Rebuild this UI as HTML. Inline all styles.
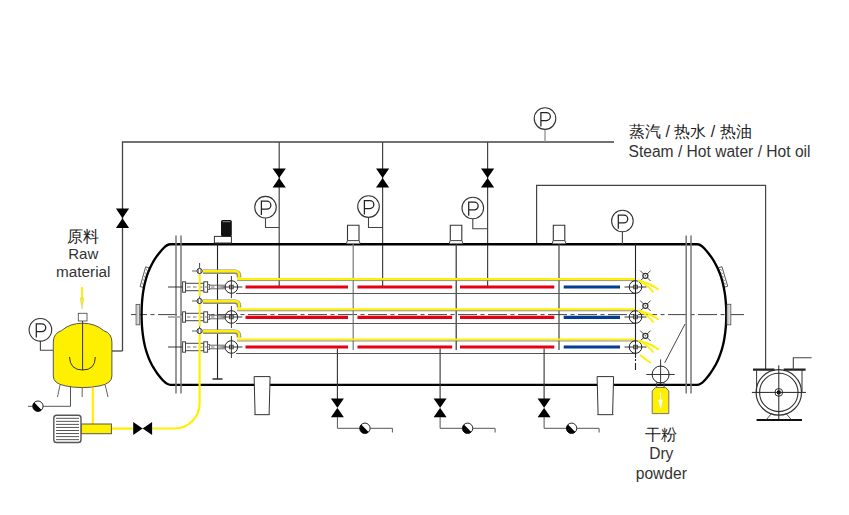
<!DOCTYPE html>
<html><head><meta charset="utf-8"><style>
html,body{margin:0;padding:0;background:#fff;}
body{width:849px;height:515px;position:relative;overflow:hidden;font-family:"Liberation Sans",sans-serif;}
svg{position:absolute;left:0;top:0;}
svg text{font-family:"Liberation Sans",sans-serif;}
.t{position:absolute;color:#2a2a2a;white-space:nowrap;}
.c{text-align:center;}
</style></head><body>
<svg width="849" height="515" viewBox="0 0 849 515">
<path d="M122.5,351 V142 H614" fill="none" stroke="#444" stroke-width="1.3"/>
<path d="M122.5,351 H112" fill="none" stroke="#444" stroke-width="1.3"/>
<path d="M115.9,208.5 H129.1 L115.9,228 H129.1 Z" fill="#000"/>
<line x1="545" y1="130" x2="545" y2="142" stroke="#888" stroke-width="1.2"/>
<circle cx="545" cy="118.6" r="10.8" fill="#fff" stroke="#333" stroke-width="1.1"/>
<path d="M540.9,126.39999999999999 V112.6 H546.4 A3.95,3.95 0 0 1 546.4,120.5 H540.9" fill="none" stroke="#222" stroke-width="1.25"/>
<line x1="279.2" y1="142" x2="279.2" y2="287" stroke="#444" stroke-width="1.2"/>
<path d="M272.59999999999997,168.6 H285.8 L272.59999999999997,187.4 H285.8 Z" fill="#000"/>
<line x1="382.6" y1="142" x2="382.6" y2="287" stroke="#444" stroke-width="1.2"/>
<path d="M376.0,168.6 H389.20000000000005 L376.0,187.4 H389.20000000000005 Z" fill="#000"/>
<line x1="487.6" y1="142" x2="487.6" y2="287" stroke="#444" stroke-width="1.2"/>
<path d="M481.0,168.6 H494.20000000000005 L481.0,187.4 H494.20000000000005 Z" fill="#000"/>
<path d="M265.5,218.2 V227.5 H279.2" fill="none" stroke="#444" stroke-width="1.1"/>
<circle cx="265.5" cy="207.2" r="10.8" fill="#fff" stroke="#333" stroke-width="1.1"/>
<path d="M261.4,215.0 V201.2 H266.9 A3.95,3.95 0 0 1 266.9,209.1 H261.4" fill="none" stroke="#222" stroke-width="1.25"/>
<path d="M368.5,217.6 V227.5 H382.6" fill="none" stroke="#444" stroke-width="1.1"/>
<circle cx="368.5" cy="206.6" r="10.8" fill="#fff" stroke="#333" stroke-width="1.1"/>
<path d="M364.4,214.4 V200.6 H369.9 A3.95,3.95 0 0 1 369.9,208.5 H364.4" fill="none" stroke="#222" stroke-width="1.25"/>
<path d="M472.8,219 V228.8 H487.6" fill="none" stroke="#444" stroke-width="1.1"/>
<circle cx="472.8" cy="208" r="10.8" fill="#fff" stroke="#333" stroke-width="1.1"/>
<path d="M468.7,215.8 V202 H474.2 A3.95,3.95 0 0 1 474.2,209.9 H468.7" fill="none" stroke="#222" stroke-width="1.25"/>
<path d="M536.6,244 V185.3 H765.6 V370" fill="none" stroke="#444" stroke-width="1.2"/>
<line x1="131" y1="314.6" x2="744" y2="314.6" stroke="#444" stroke-width="1" stroke-dasharray="19,3.5,4,3.5" stroke-dashoffset="3"/>
<g transform="translate(144.7,277.2) rotate(15.7)"><rect x="-1.9" y="-10.2" width="3.8" height="20.4" fill="#fff" stroke="#555" stroke-width="0.9"/><path d="M-1,-8.5 L1,-6.5 M-1,-4.9 L1,-2.9 M-1,-1.2999999999999998 L1,0.7000000000000002 M-1,2.3000000000000007 L1,4.300000000000001 M-1,5.9 L1,7.9 " stroke="#888" stroke-width="0.8"/></g>
<g transform="translate(723,277) rotate(-16.5)"><rect x="-1.9" y="-10.2" width="3.8" height="20.4" fill="#fff" stroke="#555" stroke-width="0.9"/><path d="M-1,-8.5 L1,-6.5 M-1,-4.9 L1,-2.9 M-1,-1.2999999999999998 L1,0.7000000000000002 M-1,2.3000000000000007 L1,4.300000000000001 M-1,5.9 L1,7.9 " stroke="#888" stroke-width="0.8"/></g>
<path d="M170.53,244.2 H697.11 Q700.44,244.2 704.14,248.2 L704.14,248.20 L704.59,248.70 L705.04,249.20 L705.49,249.70 L705.93,250.20 L706.36,250.70 L706.78,251.20 L707.20,251.70 L707.60,252.20 L708.01,252.70 L708.40,253.20 L708.79,253.70 L709.18,254.20 L709.55,254.70 L709.92,255.20 L710.29,255.70 L710.65,256.20 L711.00,256.70 L711.35,257.20 L711.69,257.70 L712.02,258.20 L712.35,258.70 L712.67,259.20 L712.99,259.70 L713.30,260.20 L713.61,260.70 L713.91,261.20 L714.21,261.70 L714.50,262.20 L714.78,262.70 L715.06,263.20 L715.34,263.70 L715.61,264.20 L715.88,264.70 L716.14,265.20 L716.39,265.70 L716.64,266.20 L716.89,266.70 L717.13,267.20 L717.37,267.70 L717.60,268.20 L717.83,268.70 L718.06,269.20 L718.28,269.70 L718.49,270.20 L718.70,270.70 L718.91,271.20 L719.12,271.70 L719.32,272.20 L719.51,272.70 L719.70,273.20 L719.89,273.70 L720.08,274.20 L720.26,274.70 L720.44,275.20 L720.61,275.70 L720.78,276.20 L720.95,276.70 L721.11,277.20 L721.27,277.70 L721.42,278.20 L721.58,278.70 L721.73,279.20 L721.87,279.70 L722.02,280.20 L722.16,280.70 L722.30,281.20 L722.43,281.70 L722.56,282.20 L722.69,282.70 L722.82,283.20 L722.94,283.70 L723.06,284.20 L723.17,284.70 L723.29,285.20 L723.40,285.70 L723.51,286.20 L723.62,286.70 L723.72,287.20 L723.82,287.70 L723.92,288.20 L724.02,288.70 L724.11,289.20 L724.20,289.70 L724.29,290.20 L724.38,290.70 L724.46,291.20 L724.55,291.70 L724.63,292.20 L724.70,292.70 L724.78,293.20 L724.85,293.70 L724.92,294.20 L724.99,294.70 L725.06,295.20 L725.13,295.70 L725.19,296.20 L725.25,296.70 L725.31,297.20 L725.37,297.70 L725.42,298.20 L725.48,298.70 L725.53,299.20 L725.58,299.70 L725.62,300.20 L725.67,300.70 L725.71,301.20 L725.76,301.70 L725.80,302.20 L725.84,302.70 L725.87,303.20 L725.91,303.70 L725.94,304.20 L725.98,304.70 L726.01,305.20 L726.03,305.70 L726.06,306.20 L726.09,306.70 L726.11,307.20 L726.13,307.70 L726.15,308.20 L726.17,308.70 L726.19,309.20 L726.21,309.70 L726.22,310.20 L726.23,310.70 L726.24,311.20 L726.25,311.70 L726.26,312.20 L726.27,312.70 L726.27,313.20 L726.28,313.70 L726.28,314.20 L726.28,314.70 L726.28,315.20 L726.27,315.70 L726.27,316.20 L726.26,316.70 L726.25,317.20 L726.25,317.70 L726.24,318.20 L726.22,318.70 L726.21,319.20 L726.19,319.70 L726.18,320.20 L726.16,320.70 L726.14,321.20 L726.12,321.70 L726.09,322.20 L726.07,322.70 L726.04,323.20 L726.01,323.70 L725.98,324.20 L725.95,324.70 L725.92,325.20 L725.88,325.70 L725.84,326.20 L725.81,326.70 L725.77,327.20 L725.72,327.70 L725.68,328.20 L725.63,328.70 L725.59,329.20 L725.54,329.70 L725.49,330.20 L725.43,330.70 L725.38,331.20 L725.32,331.70 L725.26,332.20 L725.20,332.70 L725.14,333.20 L725.07,333.70 L725.01,334.20 L724.94,334.70 L724.87,335.20 L724.79,335.70 L724.72,336.20 L724.64,336.70 L724.56,337.20 L724.48,337.70 L724.40,338.20 L724.31,338.70 L724.22,339.20 L724.13,339.70 L724.04,340.20 L723.94,340.70 L723.84,341.20 L723.74,341.70 L723.64,342.20 L723.53,342.70 L723.42,343.20 L723.31,343.70 L723.20,344.20 L723.08,344.70 L722.96,345.20 L722.84,345.70 L722.71,346.20 L722.59,346.70 L722.46,347.20 L722.32,347.70 L722.19,348.20 L722.05,348.70 L721.90,349.20 L721.76,349.70 L721.61,350.20 L721.46,350.70 L721.30,351.20 L721.14,351.70 L720.98,352.20 L720.81,352.70 L720.64,353.20 L720.47,353.70 L720.29,354.20 L720.11,354.70 L719.93,355.20 L719.74,355.70 L719.55,356.20 L719.36,356.70 L719.16,357.20 L718.95,357.70 L718.75,358.20 L718.54,358.70 L718.32,359.20 L718.10,359.70 L717.88,360.20 L717.65,360.70 L717.42,361.20 L717.18,361.70 L716.94,362.20 L716.69,362.70 L716.44,363.20 L716.19,363.70 L715.93,364.20 L715.66,364.70 L715.39,365.20 L715.12,365.70 L714.84,366.20 L714.55,366.70 L714.27,367.20 L713.97,367.70 L713.67,368.20 L713.36,368.70 L713.05,369.20 L712.74,369.70 L712.41,370.20 L712.09,370.70 L711.75,371.20 L711.41,371.70 L711.07,372.20 L710.72,372.70 L710.36,373.20 L710.00,373.70 L709.63,374.20 L709.25,374.70 L708.87,375.20 L708.48,375.70 L708.09,376.20 L707.69,376.70 L707.28,377.20 L706.86,377.70 L706.44,378.20 L706.01,378.70 L705.58,379.20 L705.13,379.70 L704.68,380.20 L704.23,380.70 Q700.44,384.8 697.11,384.8 H170.53 Q167.15,384.8 163.40,380.8 L163.31,380.70 L162.85,380.20 L162.39,379.70 L161.94,379.20 L161.50,378.70 L161.07,378.20 L160.64,377.70 L160.22,377.20 L159.81,376.70 L159.41,376.20 L159.01,375.70 L158.62,375.20 L158.23,374.70 L157.85,374.20 L157.48,373.70 L157.12,373.20 L156.76,372.70 L156.41,372.20 L156.06,371.70 L155.72,371.20 L155.39,370.70 L155.06,370.20 L154.74,369.70 L154.42,369.20 L154.11,368.70 L153.81,368.20 L153.51,367.70 L153.22,367.20 L152.93,366.70 L152.65,366.20 L152.37,365.70 L152.10,365.20 L151.83,364.70 L151.57,364.20 L151.31,363.70 L151.06,363.20 L150.81,362.70 L150.57,362.20 L150.33,361.70 L150.10,361.20 L149.87,360.70 L149.65,360.20 L149.43,359.70 L149.21,359.20 L149.00,358.70 L148.79,358.20 L148.59,357.70 L148.39,357.20 L148.20,356.70 L148.01,356.20 L147.82,355.70 L147.64,355.20 L147.46,354.70 L147.28,354.20 L147.11,353.70 L146.95,353.20 L146.78,352.70 L146.62,352.20 L146.46,351.70 L146.31,351.20 L146.16,350.70 L146.01,350.20 L145.87,349.70 L145.73,349.20 L145.59,348.70 L145.46,348.20 L145.32,347.70 L145.20,347.20 L145.07,346.70 L144.95,346.20 L144.83,345.70 L144.71,345.20 L144.60,344.70 L144.49,344.20 L144.38,343.70 L144.27,343.20 L144.17,342.70 L144.07,342.20 L143.97,341.70 L143.88,341.20 L143.78,340.70 L143.69,340.20 L143.60,339.70 L143.52,339.20 L143.43,338.70 L143.35,338.20 L143.27,337.70 L143.20,337.20 L143.12,336.70 L143.05,336.20 L142.98,335.70 L142.91,335.20 L142.84,334.70 L142.78,334.20 L142.72,333.70 L142.66,333.20 L142.60,332.70 L142.54,332.20 L142.49,331.70 L142.43,331.20 L142.38,330.70 L142.33,330.20 L142.28,329.70 L142.24,329.20 L142.19,328.70 L142.15,328.20 L142.11,327.70 L142.07,327.20 L142.03,326.70 L142.00,326.20 L141.97,325.70 L141.93,325.20 L141.90,324.70 L141.87,324.20 L141.84,323.70 L141.82,323.20 L141.79,322.70 L141.77,322.20 L141.75,321.70 L141.73,321.20 L141.71,320.70 L141.69,320.20 L141.68,319.70 L141.66,319.20 L141.65,318.70 L141.64,318.20 L141.63,317.70 L141.62,317.20 L141.61,316.70 L141.61,316.20 L141.60,315.70 L141.60,315.20 L141.60,314.70 L141.60,314.20 L141.60,313.70 L141.60,313.20 L141.61,312.70 L141.62,312.20 L141.62,311.70 L141.63,311.20 L141.64,310.70 L141.65,310.20 L141.67,309.70 L141.68,309.20 L141.70,308.70 L141.71,308.20 L141.73,307.70 L141.75,307.20 L141.78,306.70 L141.80,306.20 L141.82,305.70 L141.85,305.20 L141.88,304.70 L141.91,304.20 L141.94,303.70 L141.97,303.20 L142.01,302.70 L142.04,302.20 L142.08,301.70 L142.12,301.20 L142.16,300.70 L142.20,300.20 L142.25,299.70 L142.29,299.20 L142.34,298.70 L142.39,298.20 L142.44,297.70 L142.50,297.20 L142.55,296.70 L142.61,296.20 L142.67,295.70 L142.73,295.20 L142.79,294.70 L142.86,294.20 L142.92,293.70 L142.99,293.20 L143.06,292.70 L143.14,292.20 L143.21,291.70 L143.29,291.20 L143.37,290.70 L143.45,290.20 L143.53,289.70 L143.62,289.20 L143.71,288.70 L143.80,288.20 L143.89,287.70 L143.99,287.20 L144.09,286.70 L144.19,286.20 L144.29,285.70 L144.40,285.20 L144.51,284.70 L144.62,284.20 L144.74,283.70 L144.85,283.20 L144.97,282.70 L145.10,282.20 L145.22,281.70 L145.35,281.20 L145.48,280.70 L145.62,280.20 L145.76,279.70 L145.90,279.20 L146.04,278.70 L146.19,278.20 L146.34,277.70 L146.49,277.20 L146.65,276.70 L146.81,276.20 L146.98,275.70 L147.15,275.20 L147.32,274.70 L147.49,274.20 L147.67,273.70 L147.86,273.20 L148.05,272.70 L148.24,272.20 L148.43,271.70 L148.63,271.20 L148.83,270.70 L149.04,270.20 L149.25,269.70 L149.47,269.20 L149.69,268.70 L149.92,268.20 L150.14,267.70 L150.38,267.20 L150.62,266.70 L150.86,266.20 L151.11,265.70 L151.36,265.20 L151.62,264.70 L151.88,264.20 L152.15,263.70 L152.42,263.20 L152.70,262.70 L152.99,262.20 L153.28,261.70 L153.57,261.20 L153.87,260.70 L154.18,260.20 L154.49,259.70 L154.80,259.20 L155.13,258.70 L155.46,258.20 L155.79,257.70 L156.13,257.20 L156.48,256.70 L156.83,256.20 L157.19,255.70 L157.56,255.20 L157.93,254.70 L158.31,254.20 L158.69,253.70 L159.09,253.20 L159.49,252.70 L159.89,252.20 L160.31,251.70 L160.73,251.20 L161.15,250.70 L161.59,250.20 L162.03,249.70 L162.48,249.20 L162.94,248.70 L163.40,248.20 Q167.15,244.2 170.53,244.2 Z" fill="none" stroke="#000" stroke-width="2.35" stroke-linejoin="round"/>
<line x1="176" y1="235.5" x2="176" y2="393.5" stroke="#777" stroke-width="1.5"/>
<line x1="181" y1="235.5" x2="181" y2="393.5" stroke="#777" stroke-width="1.5"/>
<line x1="686.2" y1="235.5" x2="686.2" y2="393.5" stroke="#777" stroke-width="1.5"/>
<line x1="691" y1="235.5" x2="691" y2="393.5" stroke="#777" stroke-width="1.5"/>
<rect x="136.1" y="304.4" width="3.6" height="20.4" fill="#fff" stroke="#555" stroke-width="0.9"/><path d="M137.9,305 V324.2" stroke="#888" stroke-width="0.7"/>
<rect x="727" y="304.3" width="3.8" height="20.5" fill="#fff" stroke="#555" stroke-width="0.9"/><path d="M728.9,305 V324.2" stroke="#888" stroke-width="0.7"/>
<rect x="214.4" y="236.4" width="17" height="6.6" fill="#fff" stroke="#333" stroke-width="1"/>
<rect x="221" y="220" width="10.8" height="16.4" rx="1.6" fill="#111"/>
<path d="M222.5,221.6 H230.3" stroke="#777" stroke-width="1.2"/>
<path d="M347.5,240.8 V225.2 H359.0 V240.8" fill="#fff" stroke="#333" stroke-width="1.1"/>
<path d="M346.4,243.5 L347.4,240.6 H359.09999999999997 L360.09999999999997,243.5" fill="#fff" stroke="#444" stroke-width="1"/>
<path d="M450.3,240.8 V225.2 H461.8 V240.8" fill="#fff" stroke="#333" stroke-width="1.1"/>
<path d="M449.2,243.5 L450.2,240.6 H461.9 L462.9,243.5" fill="#fff" stroke="#444" stroke-width="1"/>
<path d="M553.3,240.8 V225.2 H564.8 V240.8" fill="#fff" stroke="#333" stroke-width="1.1"/>
<path d="M552.2,243.5 L553.2,240.6 H564.9 L565.9,243.5" fill="#fff" stroke="#444" stroke-width="1"/>
<line x1="622.4" y1="232" x2="622.4" y2="244" stroke="#444" stroke-width="1.1"/>
<circle cx="622.4" cy="221" r="10.8" fill="#fff" stroke="#333" stroke-width="1.1"/>
<path d="M618.3,228.8 V215 H623.8 A3.95,3.95 0 0 1 623.8,222.9 H618.3" fill="none" stroke="#222" stroke-width="1.25"/>
<path d="M217.5,244 V379" stroke="#222" stroke-width="1.1"/>
<path d="M212.5,379 H222.5" stroke="#222" stroke-width="1.4"/>
<line x1="353.2" y1="244" x2="353.2" y2="350" stroke="#777" stroke-width="1.2"/>
<line x1="456.2" y1="244" x2="456.2" y2="350" stroke="#333" stroke-width="1.2"/>
<line x1="559" y1="244" x2="559" y2="350" stroke="#444" stroke-width="1.2"/>
<line x1="635.5" y1="244" x2="635.5" y2="335" stroke="#222" stroke-width="1.1"/>
<line x1="635.5" y1="335" x2="635.5" y2="370" stroke="#222" stroke-width="1.1" stroke-dasharray="8,2,2,2"/>
<line x1="237" y1="279.1" x2="636" y2="279.1" stroke="#FFF000" stroke-width="2.2"/>
<line x1="237" y1="280.6" x2="636" y2="280.6" stroke="#777" stroke-width="0.8"/>
<line x1="236" y1="293.5" x2="636" y2="293.5" stroke="#555" stroke-width="1"/>
<line x1="245.5" y1="287" x2="348" y2="287" stroke="#E60012" stroke-width="3.2"/>
<line x1="357.5" y1="287" x2="452.2" y2="287" stroke="#E60012" stroke-width="3.2"/>
<line x1="460" y1="287" x2="554.3" y2="287" stroke="#E60012" stroke-width="3.2"/>
<line x1="563.7" y1="287" x2="620" y2="287" stroke="#003C98" stroke-width="3.2"/>
<circle cx="231.4" cy="287" r="6.3" fill="none" stroke="#222" stroke-width="1"/>
<rect x="229.6" y="285.2" width="3.6" height="3.6" fill="none" stroke="#222" stroke-width="0.8"/>
<path d="M220.4,287 H242.4 M231.4,276 V298" stroke="#222" stroke-width="0.9"/>
<circle cx="635.5" cy="287" r="6.3" fill="none" stroke="#222" stroke-width="1"/>
<rect x="633.7" y="285.2" width="3.6" height="3.6" fill="none" stroke="#222" stroke-width="0.8"/>
<path d="M624.5,287 H646.5 M635.5,276 V298" stroke="#222" stroke-width="0.9"/>
<path d="M168,287 H183" stroke="#222" stroke-width="0.9"/>
<path d="M209.5,285.2 H226 M209.5,288.8 H226" stroke="#555" stroke-width="0.9"/>
<rect x="185.3" y="283.3" width="18.5" height="7.4" fill="#fff" stroke="#444" stroke-width="1"/>
<rect x="182.6" y="281.8" width="2.9" height="10.4" fill="#fff" stroke="#444" stroke-width="1"/>
<rect x="203.8" y="281.8" width="3.8" height="10.4" fill="#fff" stroke="#444" stroke-width="1"/>
<rect x="207.6" y="284.6" width="2" height="4.8" fill="#fff" stroke="#555" stroke-width="0.9"/>
<line x1="187" y1="287" x2="225" y2="287" stroke="#666" stroke-width="0.9" stroke-dasharray="3.5,2.5"/>
<path d="M203,271.8 H235 A4,4 0 0 1 239,275.8 V277.5" fill="none" stroke="#8a8a8a" stroke-width="4.6"/>
<path d="M202,271.2 H235.5 A3.6,3.6 0 0 1 239.1,274.8 V277.8" fill="none" stroke="#FFF000" stroke-width="2.4"/>
<path d="M192,271 H197" stroke="#555" stroke-width="0.9"/>
<path d="M640.1999999999999,270.6 L650.6,281.0 M650.6,270.6 L640.1999999999999,281.0" stroke="#333" stroke-width="0.9"/>
<circle cx="645.4" cy="275.8" r="2.5" fill="#fff" stroke="#333" stroke-width="1.3"/>
<circle cx="645.4" cy="275.8" r="0.8" fill="#555"/>
<path d="M638.2,280.5 Q652,284 658.6,289.8" fill="none" stroke="#FFF000" stroke-width="1.9"/>
<path d="M638.2,280.5 Q648,285 653.5,292.5" fill="none" stroke="#FFF000" stroke-width="1.9"/>
<line x1="237" y1="309.3" x2="636" y2="309.3" stroke="#FFF000" stroke-width="2.2"/>
<line x1="237" y1="310.8" x2="636" y2="310.8" stroke="#777" stroke-width="0.8"/>
<line x1="236" y1="323.5" x2="636" y2="323.5" stroke="#555" stroke-width="1"/>
<line x1="245.5" y1="317.4" x2="348" y2="317.4" stroke="#E60012" stroke-width="3.2"/>
<line x1="357.5" y1="317.4" x2="452.2" y2="317.4" stroke="#E60012" stroke-width="3.2"/>
<line x1="460" y1="317.4" x2="554.3" y2="317.4" stroke="#E60012" stroke-width="3.2"/>
<line x1="563.7" y1="317.4" x2="620" y2="317.4" stroke="#003C98" stroke-width="3.2"/>
<circle cx="231.4" cy="317" r="6.3" fill="none" stroke="#222" stroke-width="1"/>
<rect x="229.6" y="315.2" width="3.6" height="3.6" fill="none" stroke="#222" stroke-width="0.8"/>
<path d="M220.4,317 H242.4 M231.4,306 V328" stroke="#222" stroke-width="0.9"/>
<circle cx="635.5" cy="317" r="6.3" fill="none" stroke="#222" stroke-width="1"/>
<rect x="633.7" y="315.2" width="3.6" height="3.6" fill="none" stroke="#222" stroke-width="0.8"/>
<path d="M624.5,317 H646.5 M635.5,306 V328" stroke="#222" stroke-width="0.9"/>
<path d="M168,317 H183" stroke="#aaa" stroke-width="1.8"/>
<path d="M209.5,315.2 H226 M209.5,318.8 H226" stroke="#555" stroke-width="0.9"/>
<rect x="185.3" y="313.3" width="18.5" height="7.4" fill="#fff" stroke="#444" stroke-width="1"/>
<rect x="182.6" y="311.8" width="2.9" height="10.4" fill="#fff" stroke="#444" stroke-width="1"/>
<rect x="203.8" y="311.8" width="3.8" height="10.4" fill="#fff" stroke="#444" stroke-width="1"/>
<rect x="207.6" y="314.6" width="2" height="4.8" fill="#fff" stroke="#555" stroke-width="0.9"/>
<line x1="187" y1="317" x2="225" y2="317" stroke="#666" stroke-width="0.9" stroke-dasharray="3.5,2.5"/>
<path d="M203,301.8 H235 A4,4 0 0 1 239,305.8 V307.5" fill="none" stroke="#8a8a8a" stroke-width="4.6"/>
<path d="M202,301.2 H235.5 A3.6,3.6 0 0 1 239.1,304.8 V307.8" fill="none" stroke="#FFF000" stroke-width="2.4"/>
<path d="M192,301 H197" stroke="#555" stroke-width="0.9"/>
<path d="M640.1999999999999,300.6 L650.6,311.0 M650.6,300.6 L640.1999999999999,311.0" stroke="#333" stroke-width="0.9"/>
<circle cx="645.4" cy="305.8" r="2.5" fill="#fff" stroke="#333" stroke-width="1.3"/>
<circle cx="645.4" cy="305.8" r="0.8" fill="#555"/>
<path d="M638.2,310.5 Q652,314 658.6,319.8" fill="none" stroke="#FFF000" stroke-width="1.9"/>
<path d="M638.2,310.5 Q648,315 653.5,322.5" fill="none" stroke="#FFF000" stroke-width="1.9"/>
<line x1="237" y1="339.5" x2="636" y2="339.5" stroke="#FFF000" stroke-width="2.2"/>
<line x1="237" y1="341.0" x2="636" y2="341.0" stroke="#777" stroke-width="0.8"/>
<line x1="236" y1="353.5" x2="636" y2="353.5" stroke="#555" stroke-width="1"/>
<line x1="245.5" y1="347" x2="348" y2="347" stroke="#E60012" stroke-width="3.2"/>
<line x1="357.5" y1="347" x2="452.2" y2="347" stroke="#E60012" stroke-width="3.2"/>
<line x1="460" y1="347" x2="554.3" y2="347" stroke="#E60012" stroke-width="3.2"/>
<line x1="563.7" y1="347" x2="620" y2="347" stroke="#003C98" stroke-width="3.2"/>
<circle cx="231.4" cy="347" r="6.3" fill="none" stroke="#222" stroke-width="1"/>
<rect x="229.6" y="345.2" width="3.6" height="3.6" fill="none" stroke="#222" stroke-width="0.8"/>
<path d="M220.4,347 H242.4 M231.4,336 V358" stroke="#222" stroke-width="0.9"/>
<circle cx="635.5" cy="347" r="6.3" fill="none" stroke="#222" stroke-width="1"/>
<rect x="633.7" y="345.2" width="3.6" height="3.6" fill="none" stroke="#222" stroke-width="0.8"/>
<path d="M624.5,347 H646.5 M635.5,336 V358" stroke="#222" stroke-width="0.9"/>
<path d="M168,347 H183" stroke="#222" stroke-width="0.9"/>
<path d="M209.5,345.2 H226 M209.5,348.8 H226" stroke="#555" stroke-width="0.9"/>
<rect x="185.3" y="343.3" width="18.5" height="7.4" fill="#fff" stroke="#444" stroke-width="1"/>
<rect x="182.6" y="341.8" width="2.9" height="10.4" fill="#fff" stroke="#444" stroke-width="1"/>
<rect x="203.8" y="341.8" width="3.8" height="10.4" fill="#fff" stroke="#444" stroke-width="1"/>
<rect x="207.6" y="344.6" width="2" height="4.8" fill="#fff" stroke="#555" stroke-width="0.9"/>
<line x1="187" y1="347" x2="225" y2="347" stroke="#666" stroke-width="0.9" stroke-dasharray="3.5,2.5"/>
<path d="M203,331.8 H235 A4,4 0 0 1 239,335.8 V337.5" fill="none" stroke="#8a8a8a" stroke-width="4.6"/>
<path d="M202,331.2 H235.5 A3.6,3.6 0 0 1 239.1,334.8 V337.8" fill="none" stroke="#FFF000" stroke-width="2.4"/>
<path d="M192,331 H197" stroke="#555" stroke-width="0.9"/>
<path d="M640.1999999999999,330.6 L650.6,341.0 M650.6,330.6 L640.1999999999999,341.0" stroke="#333" stroke-width="0.9"/>
<circle cx="645.4" cy="335.8" r="2.5" fill="#fff" stroke="#333" stroke-width="1.3"/>
<circle cx="645.4" cy="335.8" r="0.8" fill="#555"/>
<path d="M638.2,340.5 Q652,344 658.6,349.8" fill="none" stroke="#FFF000" stroke-width="1.9"/>
<path d="M638.2,340.5 Q648,345 653.5,352.5" fill="none" stroke="#FFF000" stroke-width="1.9"/>
<path d="M199.6,263 V340" stroke="#333" stroke-width="0.9"/>
<path d="M199.6,274 V296.5 M199.6,304 V326.5" stroke="#FFF000" stroke-width="1.9"/>
<path d="M199.6,334 V403.5 A25,25 0 0 1 174.4,428.5 H152" fill="none" stroke="#FFF000" stroke-width="2.2"/>
<circle cx="199.6" cy="271" r="2.6" fill="#fff" stroke="#333" stroke-width="1"/>
<path d="M198.4,268.7 V273.3 M200.8,268.7 V273.3" stroke="#555" stroke-width="0.7"/>
<circle cx="199.6" cy="301" r="2.6" fill="#fff" stroke="#333" stroke-width="1"/>
<path d="M198.4,298.7 V303.3 M200.8,298.7 V303.3" stroke="#555" stroke-width="0.7"/>
<circle cx="199.6" cy="331" r="2.6" fill="#fff" stroke="#333" stroke-width="1"/>
<path d="M198.4,328.7 V333.3 M200.8,328.7 V333.3" stroke="#555" stroke-width="0.7"/>
<line x1="111" y1="428.6" x2="133" y2="428.6" stroke="#FFF000" stroke-width="2.2"/>
<path d="M133.2,422.1 V435.1 L152.1,422.1 V435.1 Z" fill="#000"/>
<path d="M640,355 Q646,360 651,363" fill="none" stroke="#FFF000" stroke-width="1.8"/>
<path d="M254.1,376.6 H270.1 L269.1,414.6 H255.1 Z" fill="#fff" stroke="#333" stroke-width="1"/>
<path d="M254.1,414.6 H270.1" stroke="#555" stroke-width="1"/>
<path d="M597.1,376.6 H613.6 L612.6,414.6 H598.1 Z" fill="#fff" stroke="#333" stroke-width="1"/>
<path d="M597.1,414.6 H613.6" stroke="#555" stroke-width="1"/>
<line x1="337.4" y1="348.5" x2="337.4" y2="400" stroke="#333" stroke-width="1.1"/>
<path d="M330.9,398.6 H343.9 L330.9,417.2 H343.9 Z" fill="#000"/>
<path d="M337.4,417 V428.3 H361.9 M369.4,428.3 H392.4 V432.5" fill="none" stroke="#555" stroke-width="1"/>
<circle cx="364.9" cy="428.3" r="5.2" fill="#fff" stroke="#222" stroke-width="1"/>
<path d="M361.22308,424.62308 A5.2,5.2 0 0 0 368.57692,431.97692 Z" fill="#000"/>
<line x1="440.1" y1="348.5" x2="440.1" y2="400" stroke="#333" stroke-width="1.1"/>
<path d="M433.6,398.6 H446.6 L433.6,417.2 H446.6 Z" fill="#000"/>
<path d="M440.1,417 V428.3 H464.6 M472.1,428.3 H495.1 V432.5" fill="none" stroke="#555" stroke-width="1"/>
<circle cx="467.6" cy="428.3" r="5.2" fill="#fff" stroke="#222" stroke-width="1"/>
<path d="M463.92308,424.62308 A5.2,5.2 0 0 0 471.27692,431.97692 Z" fill="#000"/>
<line x1="544.1" y1="348.5" x2="544.1" y2="400" stroke="#333" stroke-width="1.1"/>
<path d="M537.6,398.6 H550.6 L537.6,417.2 H550.6 Z" fill="#000"/>
<path d="M544.1,417 V428.3 H568.6 M576.1,428.3 H599.1 V432.5" fill="none" stroke="#555" stroke-width="1"/>
<circle cx="571.6" cy="428.3" r="5.2" fill="#fff" stroke="#222" stroke-width="1"/>
<path d="M567.92308,424.62308 A5.2,5.2 0 0 0 575.27692,431.97692 Z" fill="#000"/>
<line x1="664.7" y1="362.8" x2="685" y2="324" stroke="#333" stroke-width="0.9"/>
<circle cx="660.6" cy="374.5" r="8.5" fill="#fff" stroke="#222" stroke-width="1"/>
<path d="M646.3,374.5 H674.7 M660.6,359.4 V384.6" stroke="#222" stroke-width="0.9"/>
<path d="M656.6,382.6 H664 M656.6,387.6 H664 M656.6,382.6 V387.6 M664,382.6 V387.6" stroke="#444" stroke-width="0.9"/>
<path d="M652.2,413.6 V391 L655.5,387.4 H665.5 L668.8,391 V413.6 Z" fill="#FFF000" stroke="#666" stroke-width="0.9" stroke-linejoin="round"/>
<path d="M660.5,392.5 V402 M658.9,400 L660.5,408.5 L662.1,400 Z" stroke="#fff" stroke-width="1" fill="#fff"/>
<circle cx="778.8" cy="392.4" r="22.7" fill="#fff" stroke="#333" stroke-width="1.2"/>
<circle cx="778.8" cy="392.4" r="19.2" fill="none" stroke="#333" stroke-width="1.1"/>
<circle cx="778.8" cy="392.4" r="3.9" fill="#fff" stroke="#333" stroke-width="1"/>
<circle cx="778.8" cy="392.4" r="2.1" fill="#000"/>
<path d="M751.9,392.4 H806 M778.8,365.3 V419.5" stroke="#222" stroke-width="1"/>
<path d="M753,369.7 H774.5 M783.7,369.7 H805.6" stroke="#222" stroke-width="2.2"/>
<path d="M756.6,369.7 V392 M802,369.7 V392" stroke="#333" stroke-width="1"/>
<path d="M756.6,420 H802" stroke="#111" stroke-width="2"/>
<path d="M766,420 L772,413 M791.6,420 L785.6,413" stroke="#333" stroke-width="0.9"/>
<path d="M793.3,369.7 V357.8 H811.7" fill="none" stroke="#444" stroke-width="1.1"/>
<path d="M53.4,350.2 H40.4 V341" fill="none" stroke="#444" stroke-width="1.1"/>
<circle cx="40.4" cy="329.8" r="11.3" fill="#fff" stroke="#333" stroke-width="1.1"/>
<path d="M36.3,337.6 V323.8 H41.8 A3.95,3.95 0 0 1 41.8,331.7 H36.3" fill="none" stroke="#222" stroke-width="1.25"/>
<path d="M53.3,376 V342 Q53.3,333.5 61.5,330.6 Q70,323.2 82.5,323.2 Q95,323.2 103.7,330.6 Q111.9,333.5 111.9,342 V376 Q111.9,383.5 100,385.8 Q92,387.6 82.5,387.6 Q73,387.6 65,385.8 Q53.3,383.5 53.3,376 Z" fill="#FFF000" stroke="#555" stroke-width="1"/>
<rect x="78.3" y="313.3" width="8.7" height="7.7" fill="#fff" stroke="#555" stroke-width="0.9"/>
<line x1="82.6" y1="321" x2="82.6" y2="370" stroke="#333" stroke-width="1"/>
<path d="M69.5,357 Q70,370 82.6,370 Q95.3,370 95.3,357" fill="none" stroke="#333" stroke-width="1"/>
<path d="M82,287 V299" stroke="#FFF000" stroke-width="2"/>
<path d="M80.1,298 L82,309 L83.9,298 Z" fill="#FFF000" stroke="#bbb" stroke-width="0.4"/>
<path d="M60,385 L57.5,397 M82.2,387.5 V397 M105.2,385 L108,397" stroke="#666" stroke-width="1"/>
<path d="M70.5,386.5 V406.3 H43" fill="none" stroke="#555" stroke-width="1"/>
<line x1="28" y1="406.3" x2="33" y2="406.3" stroke="#555" stroke-width="1"/>
<circle cx="37.9" cy="406.2" r="5.2" fill="#fff" stroke="#222" stroke-width="1"/>
<path d="M34.223079999999996,402.52308 A5.2,5.2 0 0 0 41.57692,409.87692 Z" fill="#000"/>
<line x1="92.8" y1="388" x2="92.8" y2="425" stroke="#FFF000" stroke-width="2.2"/>
<rect x="81" y="424" width="30.4" height="9.7" fill="#FFF000" stroke="#555" stroke-width="1"/>
<rect x="53.8" y="415.2" width="27.2" height="27.3" rx="2.8" fill="#fff" stroke="#555" stroke-width="1.4"/>
<path d="M56,418.3 H79M56,421.35 H79M56,424.40000000000003 H79M56,427.45 H79M56,430.5 H79M56,433.55 H79M56,436.6 H79M56,439.65000000000003 H79" stroke="#555" stroke-width="1"/>

<text x="629" y="137" font-size="16" fill="#222">蒸汽 / 热水 / 热油</text>
<text x="628.5" y="157.2" font-size="15.6" fill="#333">Steam / Hot water / Hot oil</text>
<text x="83.3" y="242" font-size="16" fill="#222" text-anchor="middle">原料</text>
<text x="83.3" y="259.3" font-size="15" fill="#333" text-anchor="middle">Raw</text>
<text x="83.3" y="276.7" font-size="15.3" fill="#333" text-anchor="middle">material</text>
<text x="661.3" y="439.5" font-size="15.5" fill="#222" text-anchor="middle">干粉</text>
<text x="661.3" y="458.5" font-size="15.6" fill="#333" text-anchor="middle">Dry</text>
<text x="661.3" y="479.3" font-size="15.6" fill="#333" text-anchor="middle">powder</text>

</svg>
</body></html>
